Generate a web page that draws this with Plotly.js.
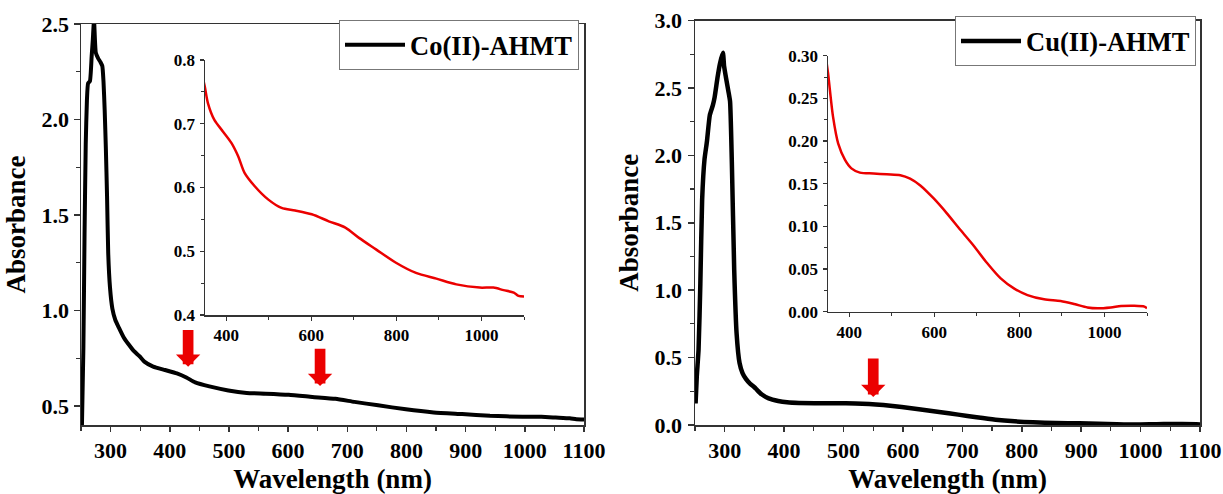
<!DOCTYPE html>
<html>
<head>
<meta charset="utf-8">
<script src="https://cdn.plot.ly/plotly-3.0.1.min.js"></script>
<style>html,body{margin:0;padding:0;background:#fff;}#chart{width:1223px;height:494px;}</style>
</head>
<body>
<div id="chart"></div>
<script>
// ---- Data ----
var coWl  = [251, 254, 256, 258, 260, 262, 265, 268, 270, 272, 275, 279, 283, 286, 288, 290, 292, 294, 296, 299, 303, 308, 314, 322, 331, 340, 349, 357, 372, 392, 412, 428, 443, 467, 499, 530, 562, 601, 641, 680, 712, 752, 799, 846, 894, 941, 996, 1028, 1052, 1076, 1087, 1100];
var coAbs = [0.30, 0.80, 1.40, 1.87, 2.10, 2.19, 2.20, 2.33, 2.42, 2.52, 2.35, 2.32, 2.30, 2.28, 2.20, 2.05, 1.85, 1.60, 1.30, 1.12, 1.01, 0.95, 0.91, 0.86, 0.82, 0.785, 0.760, 0.732, 0.706, 0.688, 0.670, 0.649, 0.623, 0.602, 0.581, 0.568, 0.564, 0.558, 0.547, 0.537, 0.521, 0.503, 0.482, 0.466, 0.457, 0.448, 0.443, 0.443, 0.439, 0.435, 0.430, 0.429];

var cuWl  = [251, 253, 256, 259, 262, 266, 270, 275, 280, 283, 288, 292, 297, 299, 302, 306, 309, 312, 316, 320, 325, 330, 336, 343, 350, 354, 362, 374, 390, 405, 425, 457, 488, 520, 543, 567, 598, 630, 661, 693, 724, 756, 788, 819, 858, 897, 929, 960, 984, 1015, 1039, 1070, 1094, 1100];
var cuAbs = [0.16, 0.36, 0.56, 1.05, 1.67, 1.97, 2.10, 2.30, 2.37, 2.43, 2.58, 2.68, 2.76, 2.66, 2.58, 2.48, 2.40, 1.95, 1.15, 0.68, 0.46, 0.385, 0.34, 0.305, 0.280, 0.262, 0.228, 0.197, 0.178, 0.168, 0.163, 0.162, 0.161, 0.160, 0.156, 0.148, 0.133, 0.115, 0.096, 0.077, 0.057, 0.039, 0.027, 0.0195, 0.0145, 0.0125, 0.009, 0.005, 0.004, 0.005, 0.0066, 0.007, 0.006, 0.004];

var seriesNames = ['Co(II)-AHMT', 'Cu(II)-AHMT'];
var xTitle = 'Wavelength (nm)';
var yTitle = 'Absorbance';

// red arrows marking bands: wavelength, tip absorbance, tail absorbance
var coArrowWl   = [431, 654];
var coArrowTip  = [0.705, 0.604];
var coArrowTail = [0.906, 0.807];
var cuArrowWl   = [550];
var cuArrowTip  = [0.208];
var cuArrowTail = [0.505];

// ---- Styling ----
var FONT = 'Liberation Serif, Times New Roman, serif';
var RED = 'rgb(235,0,0)';
var AX = '#333';
var W = 1223, H = 494;
function px(x){return x/W;}
function py(y){return 1 - y/H;}

var traces = [
  {x: coWl, y: coAbs, xaxis: 'x', yaxis: 'y', mode: 'lines', name: seriesNames[0],
   line: {color: '#000', width: 4, shape: 'spline', smoothing: 0.5}, legend: 'legend'},
  {x: coWl, y: coAbs, xaxis: 'x2', yaxis: 'y2', mode: 'lines', showlegend: false,
   line: {color: RED, width: 2.5, shape: 'spline', smoothing: 0.8}},
  {x: cuWl, y: cuAbs, xaxis: 'x3', yaxis: 'y3', mode: 'lines', name: seriesNames[1],
   line: {color: '#000', width: 4.5, shape: 'spline', smoothing: 0.5}, legend: 'legend2'},
  {x: cuWl, y: cuAbs, xaxis: 'x4', yaxis: 'y4', mode: 'lines', showlegend: false,
   line: {color: RED, width: 2.5, shape: 'spline', smoothing: 0.8}}
];

function mainX(dom, anchor, size){
  return {domain: dom, anchor: anchor, range: [250, 1100], tick0: 0, dtick: 100,
    showline: true, linecolor: AX, linewidth: 1.5, mirror: true,
    ticks: 'outside', ticklen: 5, tickwidth: 1.5, tickcolor: AX,
    minor: {dtick: 50, ticks: 'outside', ticklen: 4, tickwidth: 1.2, tickcolor: AX},
    showgrid: false, zeroline: false, ticklabelstandoff: 0,
    tickfont: {family: FONT, size: size, color: '#000', weight: 'bold'},
    title: {text: xTitle, standoff: 8, font: {family: FONT, size: 27, color: '#000', weight: 'bold'}},
    fixedrange: true};
}
function mainY(dom, anchor, range, size, so){
  return {domain: dom, anchor: anchor, range: range, tick0: 0, dtick: 0.5, tickformat: '.1f',
    showline: true, linecolor: AX, linewidth: 1.5, mirror: true,
    ticks: 'outside', ticklen: 6, tickwidth: 1.5, tickcolor: AX,
    minor: {dtick: 0.25, ticks: 'outside', ticklen: 4, tickwidth: 1.2, tickcolor: AX},
    showgrid: false, zeroline: false, ticklabelstandoff: so,
    tickfont: {family: FONT, size: size, color: '#000', weight: 'bold'},
    title: {text: yTitle, standoff: 8, font: {family: FONT, size: 27, color: '#000', weight: 'bold'}},
    fixedrange: true};
}
function insetX(dom, anchor){
  return {domain: dom, anchor: anchor, range: [350, 1100], tick0: 0, dtick: 200,
    showline: true, linecolor: AX, linewidth: 1.5, mirror: false,
    ticks: 'outside', ticklen: 4, tickwidth: 1.2, tickcolor: AX,
    minor: {dtick: 100, ticks: 'outside', ticklen: 3, tickwidth: 1, tickcolor: AX},
    showgrid: false, zeroline: false, ticklabelstandoff: 0,
    tickfont: {family: FONT, size: 17, color: '#000', weight: 'bold'}, fixedrange: true};
}
function insetY(dom, anchor, range, dt, fmt){
  return {domain: dom, anchor: anchor, range: range, tick0: 0, dtick: dt, tickformat: fmt,
    showline: true, linecolor: AX, linewidth: 1.5, mirror: false,
    ticks: 'outside', ticklen: 4, tickwidth: 1.2, tickcolor: AX,
    minor: {dtick: dt/2, ticks: 'outside', ticklen: 3, tickwidth: 1, tickcolor: AX},
    showgrid: false, zeroline: false, ticklabelstandoff: 1,
    tickfont: {family: FONT, size: 17, color: '#000', weight: 'bold'}, fixedrange: true};
}

var annotations = [];
function addArrows(wl, tip, tail, xr, yr){
  for (var i = 0; i < wl.length; i++){
    annotations.push({x: wl[i], y: tip[i], ax: wl[i], ay: tail[i], xref: xr, yref: yr, axref: xr, ayref: yr,
      text: '', showarrow: true, arrowhead: 1, arrowsize: 0.38, arrowwidth: 10.7, arrowcolor: RED, standoff: 0});
  }
}
addArrows(coArrowWl, coArrowTip, coArrowTail, 'x', 'y');
addArrows(cuArrowWl, cuArrowTip, cuArrowTail, 'x3', 'y3');

var legendFont = {family: FONT, size: 26.5, color: '#000', weight: 'bold'};
var layout = {
  width: W, height: H,
  margin: {l: 0, r: 0, t: 0, b: 0},
  paper_bgcolor: '#fff', plot_bgcolor: 'rgba(0,0,0,0)',
  showlegend: true,
  xaxis:  mainX([px(81), px(584)], 'y', 22),
  yaxis:  mainY([py(425), py(24)], 'x', [0.4, 2.5], 22, 0),
  xaxis2: insetX([px(205), px(524)], 'y2'),
  yaxis2: insetY([py(315), py(60)], 'x2', [0.4, 0.8], 0.1, '.1f'),
  xaxis3: mainX([px(695), px(1200)], 'y3', 22),
  yaxis3: mainY([py(425), py(20.5)], 'x3', [0, 3], 22, 1),
  xaxis4: insetX([px(828), px(1147)], 'y4'),
  yaxis4: insetY([py(311.7), py(55.7)], 'x4', [0, 0.3], 0.05, '.2f'),
  legend:  {x: px(579), y: py(45), xanchor: 'right', yanchor: 'middle', bgcolor: '#fff',
            bordercolor: '#777', borderwidth: 1, font: legendFont, itemwidth: 60, tracegroupgap: 0},
  legend2: {x: px(1196), y: py(41.3), xanchor: 'right', yanchor: 'middle', bgcolor: '#fff',
            bordercolor: '#777', borderwidth: 1, font: legendFont, itemwidth: 60, tracegroupgap: 0},
  annotations: annotations
};

Plotly.newPlot('chart', traces, layout, {displayModeBar: false, staticPlot: true});
</script>
</body>
</html>
